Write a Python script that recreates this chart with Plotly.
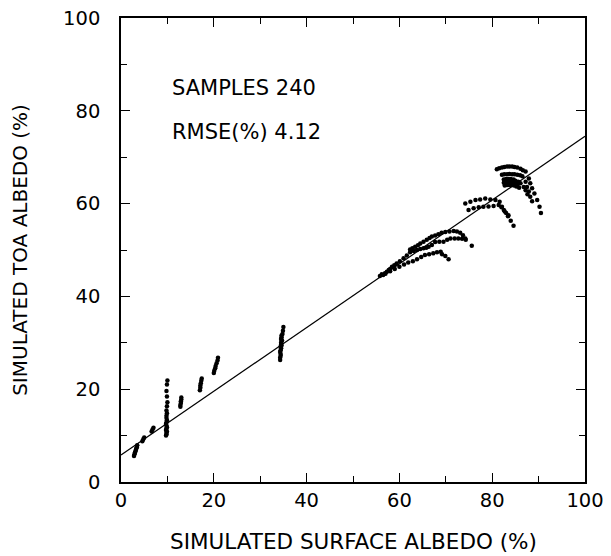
import plotly.graph_objects as go

# ---- data ----
low_x = [2.8, 2.9, 3.0, 3.1, 3.2, 3.3, 3.4, 3.5, 4.6, 4.8, 5.0, 6.6, 6.8, 7.0,
         9.7, 9.8, 9.8, 9.9, 9.7, 9.8, 9.9, 9.8, 9.7, 9.8, 9.9, 9.8, 9.8, 9.9, 9.8,
         9.9, 10.0, 9.9, 9.8, 9.9, 10.0,
         12.8, 12.8, 12.9, 12.9, 13.0, 13.0,
         17.0, 17.1, 17.1, 17.2, 17.3, 17.4,
         20.0, 20.1, 20.3, 20.4, 20.6, 20.8, 20.9]
low_y = [5.6, 6.0, 6.3, 6.6, 6.9, 7.2, 7.5, 7.9, 8.8, 9.2, 9.6, 10.9, 11.3, 11.7,
         10.0, 10.3, 10.6, 10.9, 11.2, 11.5, 11.8, 12.1, 12.5, 12.9, 13.3, 13.8, 14.3, 14.8, 15.4,
         16.3, 17.2, 18.4, 19.6, 21.0, 21.9,
         16.2, 16.6, 17.0, 17.4, 17.8, 18.2,
         19.8, 20.3, 20.8, 21.3, 21.8, 22.3,
         23.5, 24.0, 24.5, 25.0, 25.6, 26.2, 26.8]

veg_x = [34.3, 34.3, 34.4, 34.4, 34.3, 34.4, 34.5, 34.4, 34.5, 34.5, 34.6, 34.5,
         34.6, 34.6, 34.7, 34.6, 34.8, 34.9, 35.0]
veg_y = [26.3, 26.8, 27.2, 27.6, 28.0, 28.4, 28.8, 29.2, 29.6, 30.0, 30.4, 30.8,
         31.2, 31.6, 30.5, 29.4, 31.9, 32.6, 33.4]

mid_x = [55.8, 56.2, 56.5, 56.9, 57.3, 57.7, 58.0, 58.4, 58.9, 59.4, 60.1, 60.9,
         61.6, 62.3, 62.8, 63.4, 64.0, 64.5, 65.2, 65.9, 66.5, 67.0, 67.7, 68.4,
         69.1, 69.9, 70.8, 71.7, 72.4, 73.1, 73.7, 74.2, 75.6,
         62.3, 63.1, 63.8, 64.5, 65.2, 65.8, 66.3, 67.0, 67.7, 68.6, 69.5, 70.3,
         71.0, 71.9, 72.7, 73.5, 74.3,
         57.0, 58.0, 59.0, 60.0, 61.0, 61.9, 62.9, 63.8, 64.7, 65.5, 66.4, 67.3,
         68.1, 68.9, 69.2, 69.9, 70.6]
mid_y = [44.4, 44.8, 44.6, 45.0, 45.3, 45.7, 45.9, 46.4, 46.7, 47.1, 47.6, 48.2,
         48.8, 50.1, 50.4, 50.7, 51.0, 51.4, 51.8, 52.2, 52.6, 52.9, 53.1, 53.4,
         53.7, 53.9, 54.0, 54.1, 54.0, 53.7, 53.2, 52.5, 50.9,
         49.5, 49.8, 50.0, 50.2, 50.4, 50.5, 50.7, 51.1, 51.7, 51.8, 51.8, 52.2,
         52.5, 52.5, 52.5, 52.4, 52.2,
         44.9, 45.4, 45.9, 46.4, 46.9, 47.3, 47.6, 48.0, 48.5, 48.9, 49.1, 49.3,
         49.5, 49.6, 49.1, 48.7, 48.0]

snow_x = [81.0, 81.5, 82.1, 82.6, 83.2, 83.7, 84.3, 84.8, 85.4, 86.1, 86.6, 87.2,
          87.9, 88.2, 88.6, 89.1, 89.7, 90.2, 90.5,
          82.1, 82.6, 83.2, 83.7, 84.3, 84.8, 85.4, 86.0, 86.5, 87.2, 87.5, 87.9,
          88.2, 88.6,
          82.5, 83.0, 83.5, 84.0, 84.6, 85.0, 85.6, 86.1, 86.8, 87.2, 87.6,
          82.5, 83.0, 83.5, 84.0, 84.5, 85.0, 85.5, 82.7, 83.2, 83.7, 84.2, 84.7, 85.2, 85.8,
          74.2, 75.3, 76.4, 77.4, 78.5, 79.6, 80.7, 81.6, 82.1, 82.5, 83.0, 83.5, 84.0, 84.6,
          74.9, 76.0, 77.1, 78.1, 79.2, 80.3, 81.4, 82.0, 82.7, 83.4]
snow_y = [67.4, 67.6, 67.8, 67.9, 68.0, 68.0, 68.0, 67.9, 67.8, 67.5, 67.2, 66.9,
          65.4, 64.4, 63.3, 62.2, 60.8, 59.3, 58.0,
          66.2, 66.3, 66.3, 66.4, 66.3, 66.3, 66.2, 66.1, 65.9, 64.7, 63.6, 62.6,
          61.5, 60.5,
          65.2, 65.3, 65.3, 65.3, 65.2, 64.9, 64.7, 64.4, 63.6, 62.9, 62.0,
          64.5, 64.6, 64.6, 64.6, 64.5, 64.3, 64.1, 63.9, 64.0, 64.0, 64.0, 63.9, 63.7, 63.4,
          60.0, 60.4, 60.8, 60.9, 61.1, 60.9, 60.8, 60.4, 59.3, 58.6, 58.0, 57.5, 56.3, 55.2,
          58.6, 59.0, 59.2, 59.3, 59.4, 59.5, 59.7, 59.2, 58.3, 57.3]

fit_x = [0, 100]
fit_y = [5.8, 74.5]

x_ticks = [0, 20, 40, 60, 80, 100]
y_ticks = [0, 20, 40, 60, 80, 100]

all_x = low_x + veg_x + mid_x + snow_x
all_y = low_y + veg_y + mid_y + snow_y

FONT = "DejaVu Sans, Liberation Sans, sans-serif"

fig = go.Figure()
fig.add_trace(go.Scatter(x=fit_x, y=fit_y, mode="lines",
                         line=dict(color="black", width=1.2), hoverinfo="skip"))
fig.add_trace(go.Scatter(x=all_x, y=all_y, mode="markers",
                         marker=dict(color="black", size=4.5, line=dict(width=0))))

axis_common = dict(
    showgrid=False, zeroline=False, showline=True, linecolor="black", linewidth=1.6,
    ticks="inside", ticklen=9, tickwidth=1.3, tickcolor="black", mirror="ticks",
    minor=dict(ticks="inside", ticklen=6, tickwidth=1.2, tickcolor="black", dtick=10),
    tickfont=dict(family=FONT, size=19.5, color="black"),
    automargin=False,
)

fig.update_xaxes(range=[0, 100], tickvals=x_ticks, **axis_common)
fig.update_yaxes(range=[0, 100], tickvals=y_ticks, **axis_common)
fig.update_xaxes(ticklabelstandoff=0)
fig.update_yaxes(ticklabelstandoff=15)

fig.add_annotation(text="SAMPLES 240", x=0.106, y=0.849, xref="paper", yref="paper",
                   xanchor="left", yanchor="middle", showarrow=False,
                   font=dict(family=FONT, size=21, color="black"))
fig.add_annotation(text="RMSE(%) 4.12", x=0.106, y=0.755, xref="paper", yref="paper",
                   xanchor="left", yanchor="middle", showarrow=False,
                   font=dict(family=FONT, size=21, color="black"))
fig.add_annotation(text="SIMULATED SURFACE ALBEDO (%)", x=0.5, y=-0.157,
                   xref="paper", yref="paper", xanchor="center", yanchor="bottom",
                   showarrow=False, borderpad=0,
                   font=dict(family=FONT, size=21.5, color="black"))
fig.add_annotation(text="SIMULATED TOA ALBEDO (%)", x=-0.218, y=0.5, textangle=-90,
                   xref="paper", yref="paper", xanchor="center", yanchor="middle",
                   showarrow=False, font=dict(family=FONT, size=20, color="black"))

fig.update_layout(
    width=611, height=556,
    margin=dict(l=121, r=26, t=18, b=74, autoexpand=False),
    paper_bgcolor="white", plot_bgcolor="white",
    showlegend=False,
)

fig.write_html("out.html")
